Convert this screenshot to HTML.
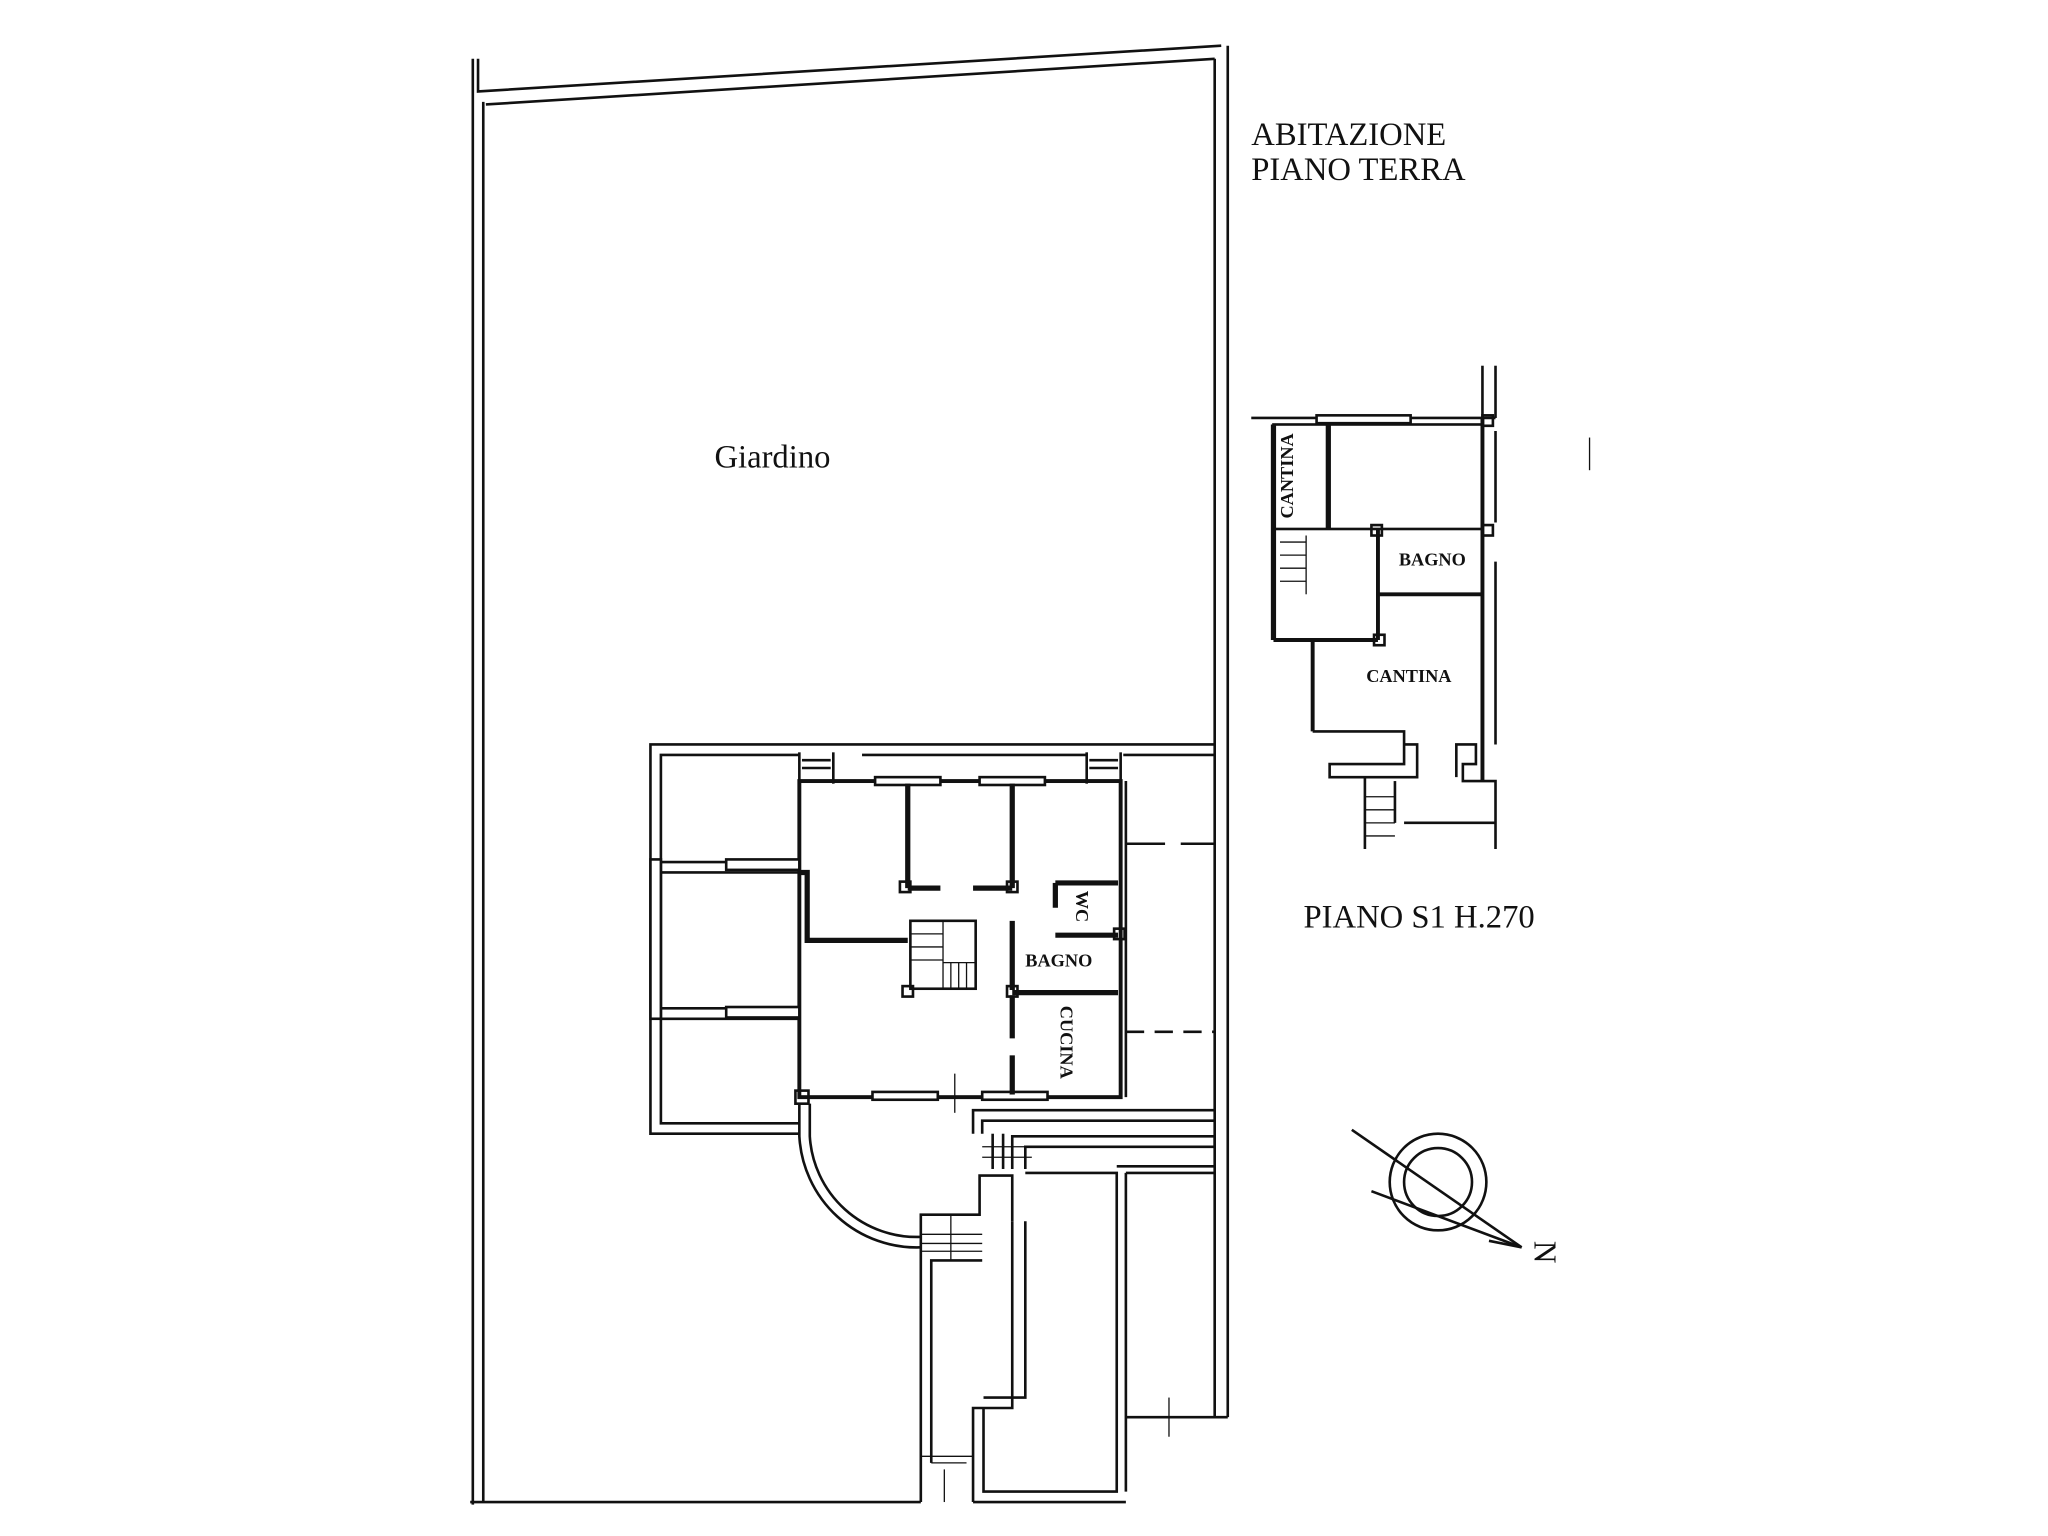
<!DOCTYPE html>
<html><head><meta charset="utf-8"><style>
html,body{margin:0;padding:0;background:#fff;}
svg{display:block;}
text{font-family:"Liberation Serif",serif;fill:#111;}
</style></head><body>
<svg width="2048" height="1536" viewBox="0 0 1568 1176" xmlns="http://www.w3.org/2000/svg">
<g fill="none" stroke="#111" stroke-width="2">
<polyline points="366,45 366,70 935,35"/>
<polyline points="372,80 930,45"/>
<line x1="362" y1="45" x2="362" y2="1152"/>
<line x1="370" y1="78" x2="370" y2="1150"/>
<line x1="930" y1="45" x2="930" y2="1085"/>
<line x1="940" y1="35" x2="940" y2="1085"/>
<line x1="360" y1="1150" x2="705" y2="1150"/>
<line x1="745" y1="1150" x2="862" y2="1150"/>
<polyline points="612,868 498,868 498,570 930,570"/>
<polyline points="612,860 506,860 506,578 612,578"/>
<polyline points="660,578 832,578"/>
<polyline points="860,578 930,578"/>
<rect x="612" y="598" width="246" height="242" stroke-width="3"/>
<line x1="612" y1="576" x2="612" y2="600"/>
<line x1="638" y1="576" x2="638" y2="600"/>
<line x1="832" y1="576" x2="832" y2="600"/>
<line x1="858" y1="576" x2="858" y2="600"/>
<line x1="614" y1="582" x2="636" y2="582"/><line x1="614" y1="588" x2="636" y2="588"/>
<line x1="834" y1="582" x2="856" y2="582"/><line x1="834" y1="588" x2="856" y2="588"/>
<polyline points="506,660 612,660"/>
<polyline points="506,668 612,668"/>
<polyline points="506,772 612,772"/>
<polyline points="506,780 612,780"/>
<rect x="498" y="658" width="8" height="122" fill="#fff"/>
<rect x="556" y="658" width="56" height="8" fill="#fff"/>
<rect x="556" y="771" width="56" height="8" fill="#fff"/>
<polyline points="612,668 618,668 618,720 695,720" stroke-width="4"/>
<rect x="670" y="595" width="50" height="6" fill="#fff"/>
<rect x="750" y="595" width="50" height="6" fill="#fff"/>
<rect x="668" y="836" width="50" height="6" fill="#fff"/>
<rect x="752" y="836" width="50" height="6" fill="#fff"/>
<line x1="695" y1="600" x2="695" y2="680" stroke-width="4"/>
<line x1="775" y1="600" x2="775" y2="680" stroke-width="4"/>
<line x1="695" y1="680" x2="720" y2="680" stroke-width="4"/>
<line x1="745" y1="680" x2="775" y2="680" stroke-width="4"/>
<line x1="808" y1="676" x2="856" y2="676" stroke-width="4"/>
<line x1="808" y1="676" x2="808" y2="695" stroke-width="4"/>
<line x1="808" y1="716" x2="856" y2="716" stroke-width="4"/>
<line x1="775" y1="705" x2="775" y2="758" stroke-width="4"/>
<line x1="775" y1="760" x2="856" y2="760" stroke-width="4"/>
<line x1="775" y1="762" x2="775" y2="795" stroke-width="4"/>
<line x1="775" y1="808" x2="775" y2="838" stroke-width="4"/>
<rect x="697" y="705" width="50" height="52"/>
<line x1="697" y1="715" x2="722" y2="715" stroke-width="1"/>
<line x1="697" y1="725" x2="722" y2="725" stroke-width="1"/>
<line x1="697" y1="735" x2="722" y2="735" stroke-width="1"/>
<line x1="722" y1="705" x2="722" y2="757" stroke-width="1"/>
<line x1="728" y1="737" x2="728" y2="757" stroke-width="1"/>
<line x1="734" y1="737" x2="734" y2="757" stroke-width="1"/>
<line x1="740" y1="737" x2="740" y2="757" stroke-width="1"/>
<line x1="722" y1="737" x2="747" y2="737" stroke-width="1"/>
<rect x="691" y="755" width="8" height="8"/>
<rect x="689" y="675" width="8" height="8"/>
<rect x="771" y="675" width="8" height="8"/>
<rect x="771" y="755" width="8" height="8"/>
<rect x="853" y="711" width="8" height="8"/>
<rect x="609" y="835" width="10" height="10"/>
<line x1="731" y1="822" x2="731" y2="852" stroke-width="1"/>
<line x1="862" y1="646" x2="930" y2="646" stroke-dasharray="30,12"/>
<line x1="862" y1="790" x2="930" y2="790" stroke-dasharray="14,8"/>
<line x1="862" y1="598" x2="862" y2="840"/>
<path d="M612,845 L612,870 A90,90 0 0 0 705,955"/>
<path d="M620,845 L620,870 A82,82 0 0 0 705,947"/>
<polyline points="745,868 745,850 930,850"/>
<polyline points="752,868 752,858 930,858"/>
<polyline points="775,895 775,870 930,870 930,878 785,878 785,895"/>
<line x1="760" y1="868" x2="760" y2="895"/>
<line x1="768" y1="868" x2="768" y2="895"/>
<line x1="752" y1="878" x2="790" y2="878" stroke-width="1"/>
<line x1="752" y1="886" x2="790" y2="886" stroke-width="1"/>
<polyline points="705,1150 705,930 750,930 750,900 775,900 775,935"/>
<polyline points="713,1120 713,965 752,965"/>
<line x1="705" y1="945" x2="752" y2="945" stroke-width="1"/>
<line x1="705" y1="952" x2="752" y2="952" stroke-width="1"/>
<line x1="705" y1="958" x2="752" y2="958" stroke-width="1"/>
<line x1="728" y1="930" x2="728" y2="965" stroke-width="1"/>
<polyline points="775,935 775,1078 745,1078 745,1150"/>
<polyline points="785,935 785,1070 753,1070"/>
<polyline points="785,898 855,898 855,1142 753,1142 753,1078"/>
<polyline points="862,898 930,898"/>
<polyline points="862,898 862,1142"/>
<polyline points="855,893 930,893"/>
<line x1="705" y1="1115" x2="745" y2="1115" stroke-width="1"/>
<line x1="713" y1="1120" x2="740" y2="1120" stroke-width="1"/>
<line x1="862" y1="1085" x2="940" y2="1085"/>
<line x1="895" y1="1070" x2="895" y2="1100" stroke-width="1"/>
<line x1="723" y1="1125" x2="723" y2="1150" stroke-width="1"/>
<line x1="1135" y1="280" x2="1135" y2="320"/>
<line x1="1145" y1="280" x2="1145" y2="320"/>
<polyline points="958,320 1145,320"/>
<rect x="1008" y="318" width="72" height="6" fill="#fff"/>
<line x1="1135" y1="320" x2="1135" y2="598" stroke-width="3"/>
<line x1="1145" y1="330" x2="1145" y2="400"/>
<line x1="1145" y1="430" x2="1145" y2="570"/>
<rect x="975" y="325" width="160" height="80"/>
<line x1="1017" y1="325" x2="1017" y2="405" stroke-width="4"/>
<line x1="975" y1="325" x2="975" y2="490" stroke-width="4"/>
<line x1="975" y1="490" x2="1055" y2="490" stroke-width="3"/>
<line x1="1055" y1="405" x2="1055" y2="490" stroke-width="3"/>
<line x1="1055" y1="455" x2="1135" y2="455" stroke-width="3"/>
<line x1="1005" y1="490" x2="1005" y2="560" stroke-width="3"/>
<polyline points="1005,560 1075,560 1075,585 1018,585 1018,595 1085,595 1085,570 1075,570"/>
<polyline points="1115,595 1115,570 1130,570 1130,585 1120,585 1120,598 1145,598 1145,650"/>
<line x1="1045" y1="595" x2="1045" y2="650"/>
<line x1="1068" y1="598" x2="1068" y2="630"/>
<line x1="1045" y1="610" x2="1068" y2="610" stroke-width="1"/>
<line x1="1045" y1="620" x2="1068" y2="620" stroke-width="1"/>
<line x1="1045" y1="630" x2="1068" y2="630" stroke-width="1"/>
<line x1="1045" y1="640" x2="1068" y2="640" stroke-width="1"/>
<line x1="1075" y1="630" x2="1145" y2="630"/>
<rect x="1050" y="402" width="8" height="8"/>
<rect x="1135" y="402" width="8" height="8"/>
<rect x="1052" y="486" width="8" height="8"/>
<rect x="1135" y="318" width="8" height="8"/>
<line x1="980" y1="415" x2="1000" y2="415" stroke-width="1"/>
<line x1="980" y1="425" x2="1000" y2="425" stroke-width="1"/>
<line x1="980" y1="435" x2="1000" y2="435" stroke-width="1"/>
<line x1="980" y1="445" x2="1000" y2="445" stroke-width="1"/>
<line x1="1000" y1="410" x2="1000" y2="455" stroke-width="1"/>
<line x1="1217" y1="335" x2="1217" y2="360" stroke-width="1"/>
<circle cx="1101" cy="905" r="37"/>
<circle cx="1101" cy="905" r="26"/>
<line x1="1035" y1="865" x2="1165" y2="955"/>
<line x1="1050" y1="912" x2="1165" y2="955"/>
<line x1="1165" y1="955" x2="1140" y2="950"/>
</g>
<g font-size="25">
<text x="958" y="111">ABITAZIONE</text>
<text x="958" y="138">PIANO TERRA</text>
<text x="547" y="358">Giardino</text>
<text x="998" y="710">PIANO S1 H.270</text>
</g>
<g font-size="14" font-weight="bold">
<text x="785" y="740">BAGNO</text>
<text x="1071" y="433">BAGNO</text>
<text x="1046" y="522">CANTINA</text>
<text transform="translate(824,682) rotate(90)">WC</text>
<text transform="translate(812,770) rotate(90)">CUCINA</text>
<text transform="translate(990,397) rotate(-90)">CANTINA</text>
</g>
<text transform="translate(1175,950) rotate(90)" font-size="24">N</text>
</svg>
</body></html>
